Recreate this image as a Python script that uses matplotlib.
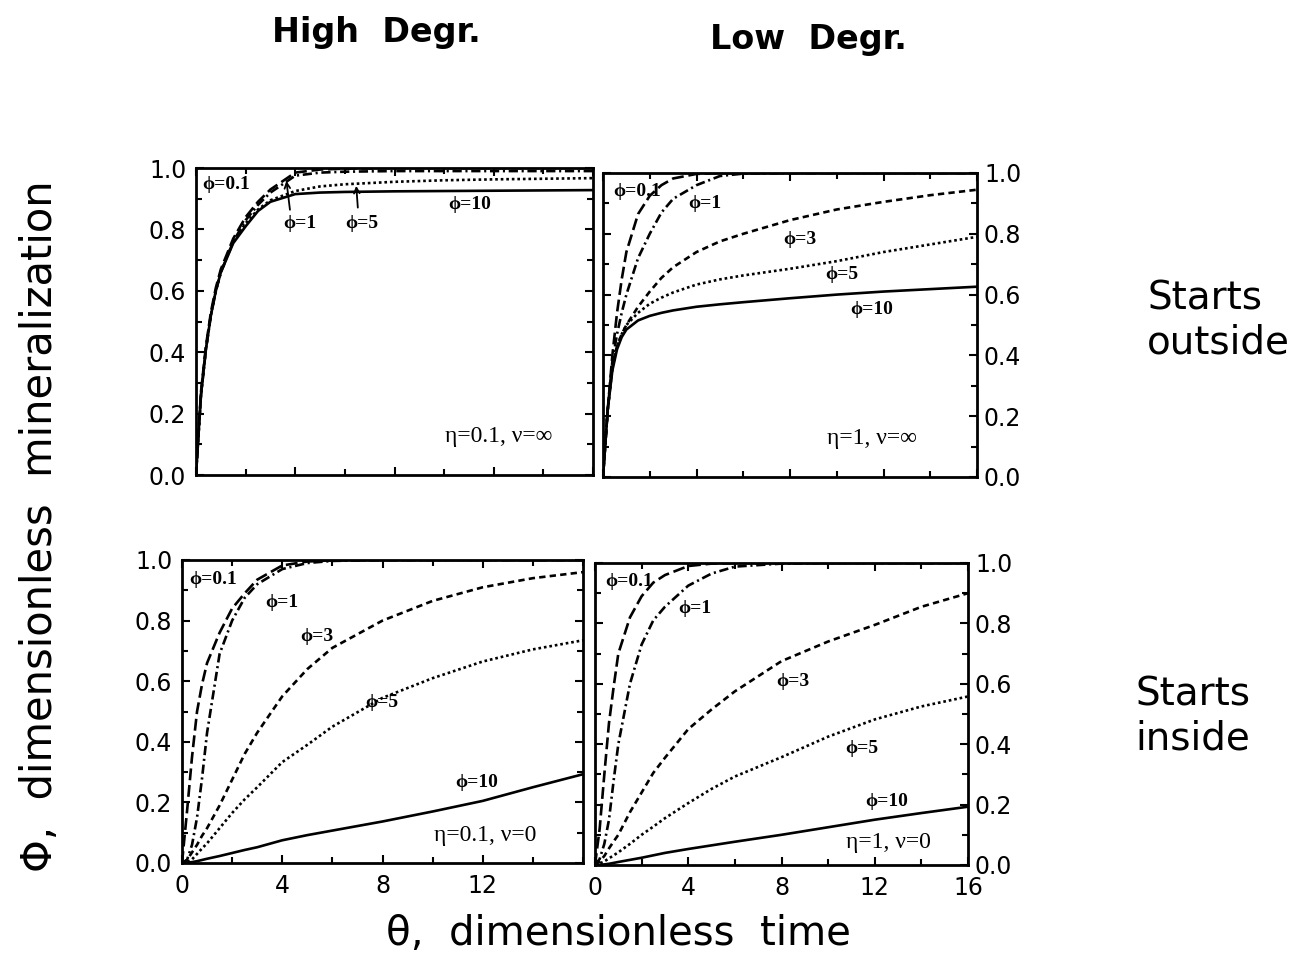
import numpy as np
import matplotlib.pyplot as plt
from matplotlib.ticker import MultipleLocator

plt.rcParams['font.family'] = ['DejaVu Sans']

# dimensionless time grid shared by every curve
theta = [0, 0.2, 0.4, 0.6, 0.8, 1, 1.5, 2, 2.5, 3, 4, 5, 6, 8, 10, 12, 14, 16]

# high degradation, starts outside (eta=0.1, nu=inf)
ho_01 = [0, 0.27, 0.42, 0.53, 0.61, 0.67, 0.77, 0.84, 0.89, 0.93, 0.985, 0.995, 0.998, 1, 1, 1, 1, 1]
ho_1 = [0, 0.26, 0.41, 0.52, 0.60, 0.66, 0.76, 0.83, 0.88, 0.92, 0.975, 0.985, 0.988, 0.99, 0.99, 0.99, 0.99, 0.99]
ho_5 = [0, 0.26, 0.41, 0.52, 0.60, 0.66, 0.76, 0.82, 0.865, 0.895, 0.925, 0.94, 0.947, 0.955, 0.96, 0.963, 0.965, 0.967]
ho_10 = [0, 0.26, 0.41, 0.52, 0.60, 0.66, 0.755, 0.81, 0.86, 0.89, 0.915, 0.92, 0.922, 0.924, 0.925, 0.926, 0.927, 0.928]

# low degradation, starts outside (eta=1, nu=inf)
lo_01 = [0, 0.22, 0.40, 0.54, 0.65, 0.74, 0.865, 0.925, 0.96, 0.982, 0.997, 1, 1, 1, 1, 1, 1, 1]
lo_1 = [0, 0.22, 0.38, 0.47, 0.54, 0.60, 0.72, 0.80, 0.87, 0.915, 0.96, 0.99, 0.998, 1, 1, 1, 1, 1]
lo_3 = [0, 0.22, 0.36, 0.43, 0.47, 0.50, 0.56, 0.61, 0.655, 0.69, 0.74, 0.775, 0.80, 0.845, 0.88, 0.905, 0.927, 0.945]
lo_5 = [0, 0.22, 0.36, 0.43, 0.47, 0.50, 0.54, 0.57, 0.59, 0.607, 0.633, 0.65, 0.663, 0.685, 0.71, 0.74, 0.765, 0.79]
lo_10 = [0, 0.22, 0.35, 0.42, 0.46, 0.485, 0.515, 0.53, 0.54, 0.548, 0.56, 0.568, 0.575, 0.588, 0.60, 0.61, 0.618, 0.626]

# high degradation, starts inside (eta=0.1, nu=0)
hi_01 = [0, 0.17, 0.35, 0.50, 0.59, 0.66, 0.76, 0.84, 0.89, 0.935, 0.982, 0.995, 0.999, 1, 1, 1, 1, 1]
hi_1 = [0, 0.01, 0.06, 0.15, 0.28, 0.43, 0.69, 0.80, 0.875, 0.92, 0.97, 0.99, 0.997, 1, 1, 1, 1, 1]
hi_3 = [0, 0.01, 0.035, 0.06, 0.09, 0.115, 0.19, 0.275, 0.36, 0.43, 0.55, 0.64, 0.71, 0.80, 0.865, 0.91, 0.94, 0.96]
hi_5 = [0, 0.003, 0.012, 0.03, 0.048, 0.065, 0.115, 0.165, 0.21, 0.25, 0.333, 0.39, 0.45, 0.545, 0.61, 0.665, 0.705, 0.735]
hi_10 = [0, 0.001, 0.003, 0.006, 0.01, 0.014, 0.023, 0.033, 0.043, 0.052, 0.075, 0.092, 0.107, 0.137, 0.17, 0.205, 0.25, 0.293]

# low degradation, starts inside (eta=1, nu=0)
li_01 = [0, 0.12, 0.30, 0.47, 0.59, 0.70, 0.82, 0.89, 0.935, 0.96, 0.99, 0.998, 1, 1, 1, 1, 1, 1]
li_1 = [0, 0.02, 0.07, 0.15, 0.28, 0.40, 0.60, 0.73, 0.81, 0.855, 0.925, 0.965, 0.988, 0.998, 1, 1, 1, 1]
li_3 = [0, 0.012, 0.03, 0.055, 0.078, 0.10, 0.175, 0.24, 0.305, 0.355, 0.45, 0.515, 0.575, 0.675, 0.74, 0.795, 0.855, 0.90]
li_5 = [0, 0.005, 0.012, 0.022, 0.032, 0.042, 0.07, 0.10, 0.127, 0.155, 0.205, 0.252, 0.293, 0.357, 0.425, 0.482, 0.525, 0.558]
li_10 = [0, 0.001, 0.002, 0.004, 0.007, 0.01, 0.017, 0.024, 0.032, 0.04, 0.053, 0.065, 0.077, 0.10, 0.125, 0.15, 0.172, 0.193]

styles = {
    '0.1': (0, (4.5, 1.8)),
    '1': (0, (3.5, 1.4, 0.8, 1.4)),
    '3': (0, (2.4, 1.6)),
    '5': (0, (1.0, 1.1)),
    '10': '-',
}

serif = ['Liberation Serif', 'DejaVu Serif']

W, H = 1315, 968
fig = plt.figure(figsize=(W / 100, H / 100), dpi=100)


def px_axes(x0, y0, x1, y1):
    return fig.add_axes([x0 / W, 1 - y1 / H, (x1 - x0) / W, (y1 - y0) / H])


def setup(ax, right, xlabels):
    ax.set_xlim(0, 16)
    ax.set_ylim(0, 1)
    ax.xaxis.set_major_locator(MultipleLocator(4))
    ax.xaxis.set_minor_locator(MultipleLocator(2))
    ax.yaxis.set_major_locator(MultipleLocator(0.2))
    ax.yaxis.set_minor_locator(MultipleLocator(0.1))
    ax.tick_params(which='both', direction='in', top=True, right=True,
                   width=1.5, labelsize=17)
    ax.tick_params(which='major', length=5.5)
    ax.tick_params(which='minor', length=4)
    ax.tick_params(axis='y', pad=7)
    ax.tick_params(axis='x', pad=8)
    if right:
        ax.tick_params(axis='y', labelleft=False, labelright=True, pad=5)
    ax.yaxis.set_major_formatter(lambda v, p: '%.1f' % v)
    if xlabels:
        ax.xaxis.set_major_formatter(lambda v, p: '%d' % v)
    else:
        ax.tick_params(axis='x', labelbottom=False)
    for s in ax.spines.values():
        s.set_linewidth(2.0)


def draw(ax, curves, labels, note, note_xy):
    for phi, vals in curves:
        ax.plot(theta, vals, color='black', lw=1.9, linestyle=styles[phi])
    for text, x, y, ha in labels:
        ax.text(x, y, text, ha=ha, va='center', fontsize=14, family=serif,
                fontweight='bold')
    ax.text(note_xy[0], note_xy[1], note, ha='center', va='center',
            fontsize=17, family=serif)


# top left
ax1 = px_axes(196, 168, 593, 475)
setup(ax1, False, False)
draw(ax1, [('0.1', ho_01), ('1', ho_1), ('5', ho_5), ('10', ho_10)],
     [('ϕ=0.1', 0.25, 0.945, 'left'), ('ϕ=1', 4.2, 0.82, 'center'),
      ('ϕ=5', 6.7, 0.82, 'center'), ('ϕ=10', 11.05, 0.88, 'center')],
     'η=0.1, ν=∞', (12.2, 0.124))
ax1.annotate('', xy=(3.63, 0.967), xytext=(3.8, 0.855),
             arrowprops=dict(arrowstyle='->', lw=1.3, color='black'))
ax1.annotate('', xy=(6.45, 0.951), xytext=(6.53, 0.862),
             arrowprops=dict(arrowstyle='->', lw=1.3, color='black'))

# top right
ax2 = px_axes(603, 173, 977, 477)
setup(ax2, True, False)
draw(ax2, [('0.1', lo_01), ('1', lo_1), ('3', lo_3), ('5', lo_5), ('10', lo_10)],
     [('ϕ=0.1', 0.45, 0.94, 'left'), ('ϕ=1', 4.36, 0.9, 'center'),
      ('ϕ=3', 8.4, 0.78, 'center'), ('ϕ=5', 10.2, 0.665, 'center'),
      ('ϕ=10', 11.5, 0.55, 'center')],
     'η=1, ν=∞', (11.5, 0.128))

# bottom left
ax3 = px_axes(182, 560, 583, 863)
setup(ax3, False, True)
ax3.set_xticks([0, 4, 8, 12])
draw(ax3, [('0.1', hi_01), ('1', hi_1), ('3', hi_3), ('5', hi_5), ('10', hi_10)],
     [('ϕ=0.1', 0.3, 0.934, 'left'), ('ϕ=1', 3.98, 0.86, 'center'),
      ('ϕ=3', 5.38, 0.746, 'center'), ('ϕ=5', 7.98, 0.531, 'center'),
      ('ϕ=10', 11.76, 0.267, 'center')],
     'η=0.1, ν=0', (12.1, 0.092))

# bottom right
ax4 = px_axes(595, 563, 968, 865)
setup(ax4, True, True)
draw(ax4, [('0.1', li_01), ('1', li_1), ('3', li_3), ('5', li_5), ('10', li_10)],
     [('ϕ=0.1', 0.43, 0.94, 'left'), ('ϕ=1', 4.3, 0.85, 'center'),
      ('ϕ=3', 8.5, 0.606, 'center'), ('ϕ=5', 11.46, 0.387, 'center'),
      ('ϕ=10', 12.5, 0.21, 'center')],
     'η=1, ν=0', (12.6, 0.076))

# column and row headings, axis titles
fig.text(376 / W, 1 - 42 / H, 'High  Degr.', ha='center', va='baseline',
         fontsize=24, fontweight='bold')
fig.text(808 / W, 1 - 49 / H, 'Low  Degr.', ha='center', va='baseline',
         fontsize=24, fontweight='bold')
fig.text(1147 / W, 1 - 279 / H, 'Starts\noutside', ha='left', va='top',
         fontsize=28)
fig.text(1135 / W, 1 - 676 / H, 'Starts\ninside', ha='left', va='top',
         fontsize=28)
fig.text(40 / W, 1 - 526 / H, 'Φ,  dimensionless  mineralization',
         rotation=90, ha='center', va='center', fontsize=30)
fig.text(618 / W, 1 - 945 / H, 'θ,  dimensionless  time', ha='center',
         va='baseline', fontsize=29)

fig.savefig('out.png', dpi=100)
